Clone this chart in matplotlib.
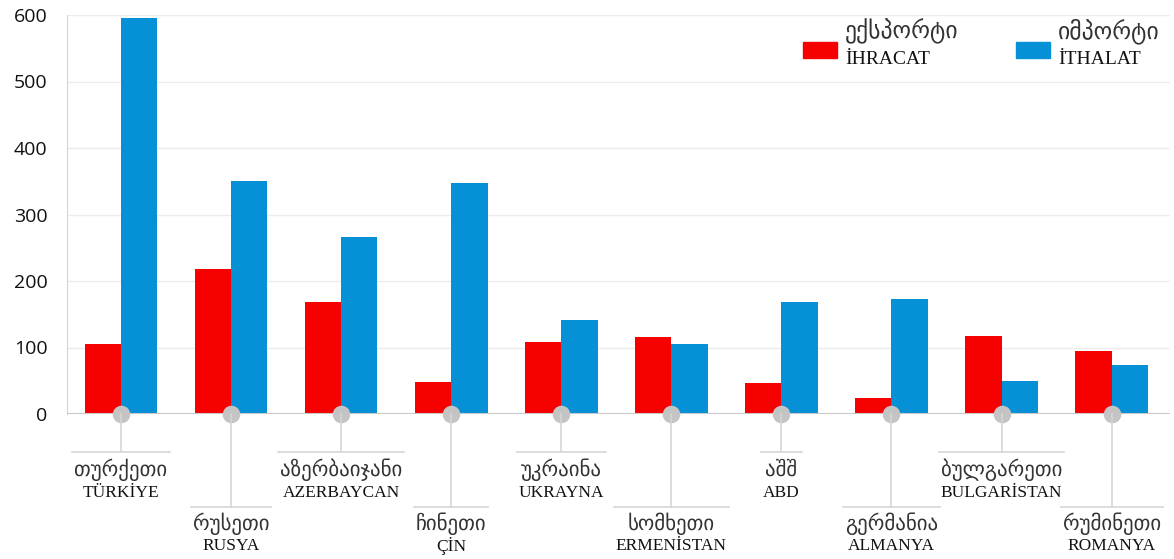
import matplotlib
matplotlib.use("Agg")
import matplotlib.pyplot as plt
import numpy as np
from matplotlib.transforms import blended_transform_factory
from matplotlib.lines import Line2D
from matplotlib.patches import Rectangle

# data
countries_ka = ["თურქეთი", "რუსეთი", "აზერბაიჯანი", "ჩინეთი", "უკრაინა",
                "სომხეთი", "აშშ", "გერმანია", "ბულგარეთი", "რუმინეთი"]
countries_tr = ["TÜRKİYE", "RUSYA", "AZERBAYCAN", "ÇİN", "UKRAYNA",
                "ERMENİSTAN", "ABD", "ALMANYA", "BULGARİSTAN", "ROMANYA"]
exports = [105, 218, 168, 48, 108, 116, 47, 24, 118, 94]
imports = [595, 350, 266, 348, 141, 106, 168, 173, 49, 73]
series_ka = ["ექსპორტი", "იმპორტი"]
series_tr = ["İHRACAT", "İTHALAT"]
yticks = [0, 100, 200, 300, 400, 500, 600]

RED = "#f70000"
BLUE = "#0690d6"
GRID = "#ececec"
GREY = "#c4c4c4"
KA_FONT = "DejaVu Sans"
TR_FONT = "Liberation Serif"

W, H = 1174, 559
fig = plt.figure(figsize=(W / 100, H / 100), dpi=100)
ax = fig.add_axes([67 / W, 1 - 414 / H, (1170 - 67) / W, 399 / H])

x = np.arange(len(countries_ka))
bw = 0.33
ax.bar(x - bw / 2, exports, bw, color=RED, zorder=2)
ax.bar(x + bw / 2, imports, bw, color=BLUE, zorder=2)

ax.set_xlim(-0.49, 9.53)
ax.set_ylim(0, 600)
ax.set_yticks(yticks)
ax.set_yticklabels([str(v) for v in yticks], fontsize=14, family="Open Sans",
                   color="#111111")
ax.tick_params(axis="y", length=0, pad=14)
ax.set_xticks([])
for v in yticks[1:]:
    ax.axhline(v, color=GRID, lw=1, zorder=0)
for s in ["top", "right", "bottom"]:
    ax.spines[s].set_visible(False)
ax.spines["left"].set_color("#d4d4d4")
ax.axhline(0, color="#c8c8c8", lw=1.5, zorder=3)

# dots on the baseline
ax.scatter(x, np.zeros(len(x)), s=160, color=GREY, zorder=4, clip_on=False,
           linewidths=0)

# leader lines and two-line labels below the axis
tr = blended_transform_factory(ax.transData, fig.transFigure)
fig.canvas.draw()
renderer = fig.canvas.get_renderer()
for i in range(len(x)):
    if i % 2 == 0:
        line_y, ka_y, tr_y = 452, 470, 493
    else:
        line_y, ka_y, tr_y = 507, 524, 546
    t1 = fig.text(x[i], 1 - ka_y / H, countries_ka[i], transform=tr,
                  ha="center", va="center", fontsize=15, family=KA_FONT,
                  color="#333333")
    t2 = fig.text(x[i], 1 - tr_y / H, countries_tr[i], transform=tr,
                  ha="center", va="center", fontsize=12.5, family=TR_FONT,
                  color="#111111")
    fig.add_artist(Line2D([x[i], x[i]], [1 - 414 / H, 1 - line_y / H],
                          transform=tr, color="#d6d6d6", lw=1.2, zorder=1))
    e1 = t1.get_window_extent(renderer)
    e2 = t2.get_window_extent(renderer)
    left = min(e1.x0, e2.x0) - 2
    right = max(e1.x1, e2.x1) + 2
    fig.add_artist(Line2D([left / W, right / W], [1 - line_y / H, 1 - line_y / H],
                          transform=fig.transFigure, color="#d6d6d6", lw=1.2))

# legend
for px, col, ka, trl in [(803, RED, series_ka[0], series_tr[0]),
                         (1016, BLUE, series_ka[1], series_tr[1])]:
    fig.add_artist(Rectangle((px / W, 1 - 58 / H), 34 / W, 16 / H,
                             transform=fig.transFigure, color=col))
    fig.text((px + 42) / W, 1 - 31 / H, ka, ha="left", va="center",
             fontsize=17, family=KA_FONT, color="#333333")
    fig.text((px + 42) / W, 1 - 59 / H, trl, ha="left", va="center",
             fontsize=14, family=TR_FONT, color="#111111")

fig.savefig("out.png", dpi=100)
